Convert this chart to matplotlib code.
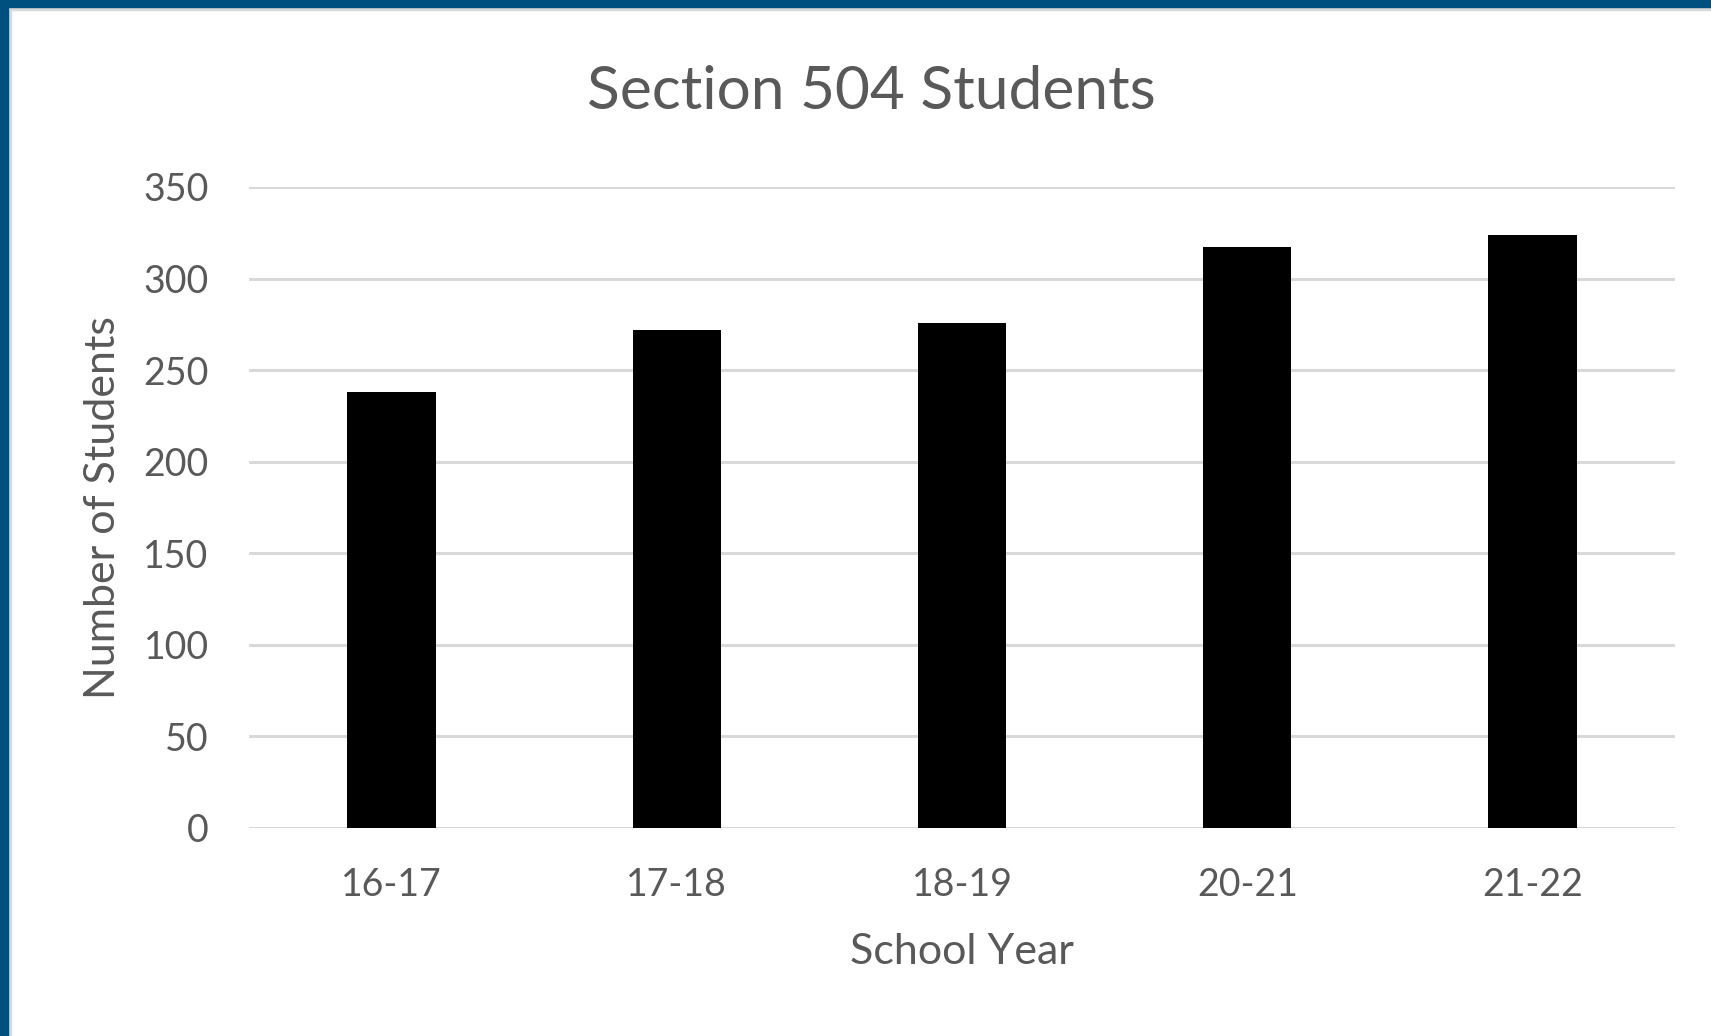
import matplotlib
matplotlib.use("Agg")
import matplotlib.pyplot as plt
from matplotlib.patches import Rectangle

# data
school_years = ["16-17", "17-18", "18-19", "20-21", "21-22"]
students = [238, 272, 276, 317, 324]
y_ticks = [0, 50, 100, 150, 200, 250, 300, 350]

plt.rcParams['font.family'] = ['Lato', 'DejaVu Sans']
text_color = '#595959'

fig = plt.figure(figsize=(17.11, 10.36), dpi=100)
ax = fig.add_axes([0.1455, 0.2008, 0.979 - 0.1455, 0.8195 - 0.2008])

x = range(len(school_years))
ax.bar(x, students, width=0.31, color='black', zorder=3)

ax.set_xlim(-0.5, len(school_years) - 0.5)
ax.set_ylim(0, 350)
ax.set_yticks(y_ticks)
ax.set_xticks(list(x))
ax.set_xticklabels(school_years)

# gridlines only, no spines
for s in ax.spines.values():
    s.set_visible(False)
ax.yaxis.grid(True, color='#D9D9D9', linewidth=2.2, zorder=0)
ax.set_axisbelow(True)
ax.tick_params(axis='both', length=0, labelsize=27, labelcolor=text_color)
ax.tick_params(axis='y', pad=29)
ax.tick_params(axis='x', pad=28)

ax.set_xlabel("School Year", fontsize=31, color=text_color, labelpad=22)
ax.set_ylabel("Number of Students", fontsize=31, color=text_color, labelpad=15)

fig.text(871 / 1711, 1 - 92 / 1036, "Section 504 Students", fontsize=43.5,
         color=text_color, ha='center', va='center')

# frame of the slide: dark blue band on top and left, thin grey inner line
fig.patches.append(Rectangle((0, 0), 7.5 / 1711, 1, transform=fig.transFigure,
                             color='#00507F', zorder=10))
fig.patches.append(Rectangle((0, 1 - 7 / 1036), 1, 7 / 1036, transform=fig.transFigure,
                             color='#00507F', zorder=10))
fig.patches.append(Rectangle((7.5 / 1711, 0), 3 / 1711, 1 - 7 / 1036, transform=fig.transFigure,
                             color='#D9D9D9', zorder=9))
fig.patches.append(Rectangle((7.5 / 1711, 1 - 10 / 1036), 1, 3 / 1036, transform=fig.transFigure,
                             color='#D9D9D9', zorder=9))

fig.savefig("out.png", dpi=100)
